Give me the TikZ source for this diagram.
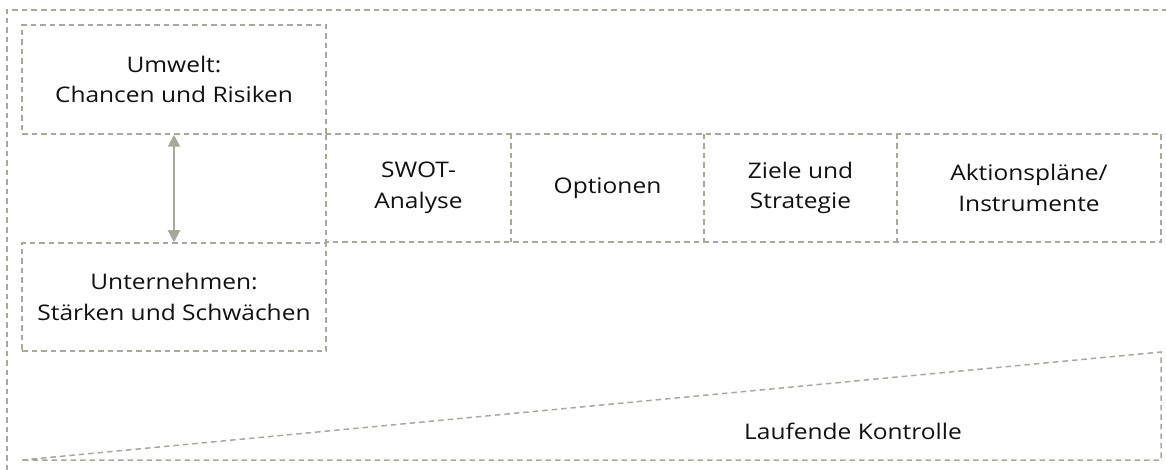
\documentclass[tikz,border=0pt]{standalone}
\usepackage{fontspec}
\setmainfont[FakeStretch=1.14]{Open Sans}
\usetikzlibrary{arrows.meta}
\definecolor{lc}{HTML}{A9A99B}
\definecolor{ac}{HTML}{A6A898}
\definecolor{tc}{HTML}{111111}
\begin{document}
\begin{tikzpicture}[x=1pt,y=-1pt,
  dline/.style={draw=lc,line width=1.5pt,dash pattern=on 5.5pt off 4pt},
  lbl/.style={inner sep=0pt,align=center,text=tc,font=\fontsize{21.5}{30.5}\selectfont},
  cell/.style={lbl,minimum height=108pt},
  twoarrow/.style={draw=ac,line width=2pt,{Triangle[width=12pt,length=12pt]}-{Triangle[width=12pt,length=12pt]}}]
\useasboundingbox (0,0) rectangle (1166,470);
% outer frame (clipped at right and bottom)
\coordinate (o1) at (7,470);
\coordinate (o2) at (7,10);
\coordinate (o3) at (1166,10);
\draw[dline] (o1) -- (o2) -- (o3);
% left boxes
\node[lbl,dline,minimum width=304pt,minimum height=109pt] (umw) at (174,79.5) {Umwelt:\\Chancen und Risiken};
\node[lbl,dline,minimum width=304pt,minimum height=108pt] (unt) at (174,297) {Unternehmen:\\Stärken und Schwächen};
\draw[twoarrow] (umw.south) -- (unt.north);
% process row
\node[cell,minimum width=185pt] (swot) at (418.5,188) {SWOT-\\Analyse};
\node[cell,minimum width=193pt] (opt) at (607.5,188) {Optionen};
\node[cell,minimum width=193pt] (ziel) at (800.5,188) {Ziele und\\Strategie};
\node[cell,minimum width=264pt] (akt) at (1029,188) {Aktionspläne/\\Instrumente};
\draw[dline] (swot.north west) -- (akt.north east) -- (akt.south east) -- (swot.south west) -- cycle;
\draw[dline] (opt.north west) -- (opt.south west);
\draw[dline] (ziel.north west) -- (ziel.south west);
\draw[dline] (akt.north west) -- (akt.south west);
% control wedge
\coordinate (k1) at (22,460);
\coordinate (k2) at (1161,352);
\coordinate (k3) at (1161,460);
\draw[dline] (k1) -- (k2) -- (k3) -- cycle;
\node[lbl] (kon) at (853,431) {Laufende Kontrolle};
\end{tikzpicture}
\end{document}
